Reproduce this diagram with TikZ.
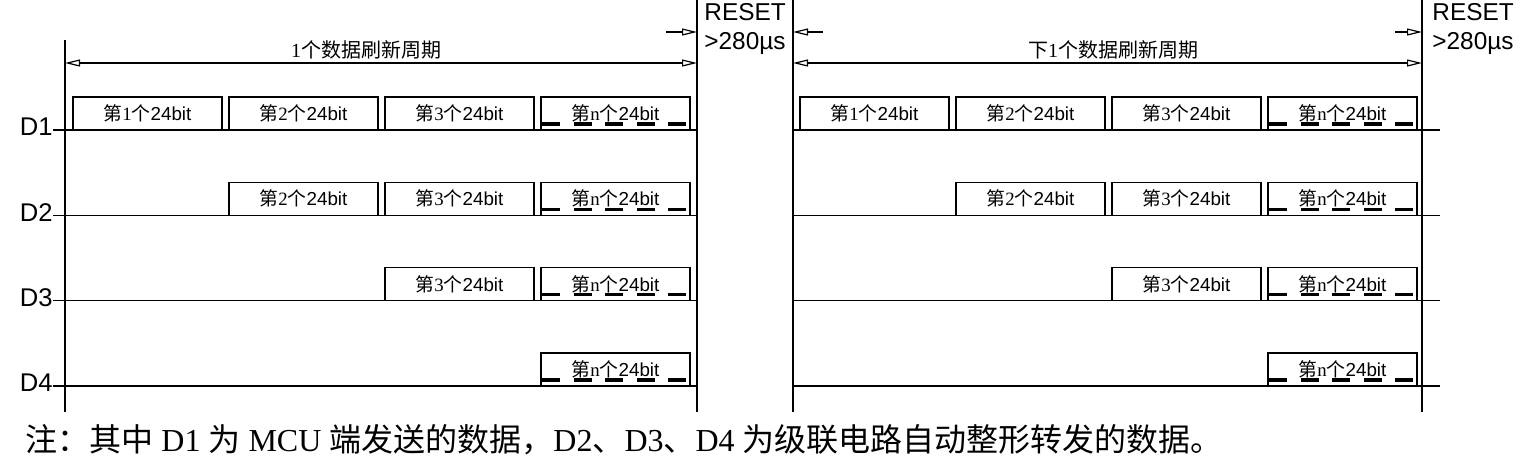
\documentclass[tikz,border=0pt]{standalone}
\usepackage{fontspec}
\setmainfont{Liberation Serif}
\setsansfont{Liberation Sans}
\newfontfamily\cjk{Noto Sans CJK SC}
\usetikzlibrary{arrows.meta,positioning}

\newcommand{\zh}[1]{{\cjk #1}}
\newcommand{\bitlabel}[1]{\zh{第}#1\zh{个}\textsf{24bit}}

\begin{document}
\begin{tikzpicture}[
    x=0.5pt, y=-0.5pt,
    box/.style={draw, line width=0.65pt, inner sep=0pt, minimum width=74.5pt, minimum height=16.5pt, font=\fontsize{9.4}{10}\selectfont},
    wire/.style={line width=0.7pt},
    link/.style={{Triangle[open,length=7.5pt,width=3.5pt]}-{Triangle[open,length=7.5pt,width=3.5pt]}, line width=0.6pt},
    tip/.style={-{Triangle[open,length=7.5pt,width=3.5pt]}, line width=0.6pt},
    chan/.style={anchor=east, inner sep=0pt, font=\sffamily\fontsize{12.8}{12.8}\selectfont},
    resetlbl/.style={anchor=north west, align=left, inner sep=0pt, font=\sffamily\fontsize{12.2}{14.5}\selectfont},
    period/.style={inner sep=0pt, font=\fontsize{10}{10}\selectfont},
    gap/.style={line width=1.6pt, dash pattern=on 9pt off 6.75pt}
]
\useasboundingbox (0,0) rectangle (1533,456);

% frame lines
\coordinate (lt) at (65,40);    \coordinate (lb) at (65,412);
\coordinate (rt) at (697,0);    \coordinate (rb) at (697,412);
\coordinate (lt2) at (793,0);   \coordinate (lb2) at (793,412);
\coordinate (rt2) at (1422,0);  \coordinate (rb2) at (1422,412);
\draw[wire] (lt) -- (lb);
\draw[wire] (rt) -- (rb);
\draw[wire] (lt2) -- (lb2);
\draw[wire] (rt2) -- (rb2);

% refresh periods
\draw[link] (65,63) -- (697,63);
\draw[link] (793,63) -- (1422,63);
\node[period] (per1) at (366,50) {1\zh{个数据刷新周期}};
\node[period] (per2) at (1113,50) {\zh{下}1\zh{个数据刷新周期}};

% reset gaps
\draw[tip] (666,32) -- (rt |- 0,32);
\draw[tip] (823,32) -- (lt2 |- 0,32);
\draw[tip] (1395,32) -- (rt2 |- 0,32);
\node[resetlbl] (rst1) at (704,3) {RESET\\>280\textmu s};
\node[resetlbl] (rst2) at (1432,3) {RESET\\>280\textmu s};

% channels and data frames
\foreach \k/\yy in {1/130, 2/215.3, 3/300.7, 4/386} {
    \node[chan] (d\k) at (53,\yy-3) {D\k};
    \coordinate (w\k) at (53,\yy);
    \coordinate (e\k) at (697,\yy);
    \coordinate (w2\k) at (793,\yy);
    \coordinate (e2\k) at (1440,\yy);
    \draw[wire] (w\k) -- (e\k);
    \draw[wire] (w2\k) -- (e2\k);
    \foreach \i in {\k,...,4} {
        \node[box] (a\k\i) at (73+156*\i-156+74.5,\yy-16.5) {\bitlabel{\ifnum\i=4 n\else\i\fi}};
        \node[box] (b\k\i) at (800+156*\i-156+74.5,\yy-16.5) {\bitlabel{\ifnum\i=4 n\else\i\fi}};
    }
    \draw[gap] ([xshift=1pt,yshift=3.3pt]a\k4.south west) -- ([xshift=-1.5pt,yshift=3.3pt]a\k4.south east);
    \draw[gap] ([xshift=1pt,yshift=3.3pt]b\k4.south west) -- ([xshift=-1.5pt,yshift=3.3pt]b\k4.south east);
}

% note
\node[anchor=base west, inner sep=0pt, font=\fontsize{16}{16}\selectfont] (note) at (25,451)
    {\zh{注：其中} D1 \zh{为} MCU \zh{端发送的数据，}D2\zh{、}D3\zh{、}D4 \zh{为级联电路自动整形转发的数据。}};
\end{tikzpicture}
\end{document}
